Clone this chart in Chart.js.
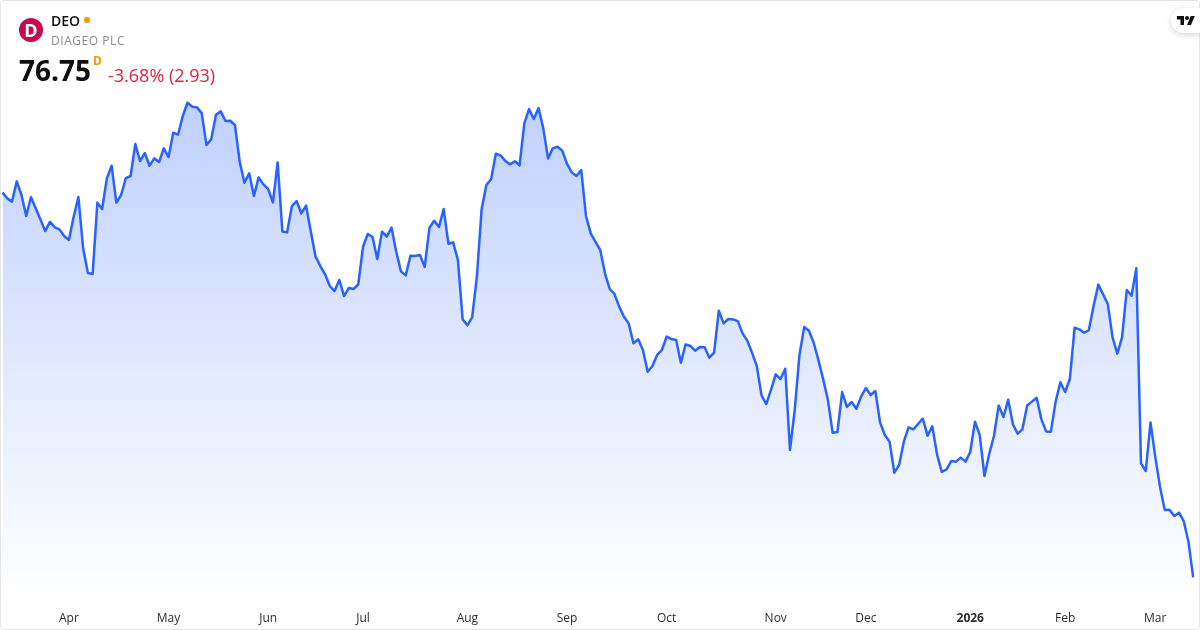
<!DOCTYPE html>
<html>
<head>
<meta charset="utf-8">
<title>DEO</title>
<script src="https://cdn.jsdelivr.net/npm/chart.js@4"></script>
<style>
  html, body { margin: 0; padding: 0; background: #fff; }
  body { width: 1200px; height: 630px; overflow: hidden; position: relative; font-family: "Open Sans", sans-serif; }
  #grafico { position: absolute; left: 0; top: 0; }
  #marco { position: absolute; left: 0; top: 0; width: 1198px; height: 628px; border: 1px solid #e6e6e6; border-radius: 4px; pointer-events: none; }
  .txt { position: absolute; white-space: nowrap; line-height: 1; }
  #logo { position: absolute; left: 19px; top: 18px; width: 24px; height: 24px; border-radius: 50%; background: #c60a50; color: #fff; font-weight: 700; font-size: 18px; line-height: 24px; text-align: center; }
  #punto { position: absolute; left: 84px; top: 17px; width: 6px; height: 6px; border-radius: 50%; background: #ff9800; }
  #tv { position: absolute; left: 1171px; top: 8px; width: 29px; height: 25px; background: #fff; border-radius: 13px 0 0 13px; box-shadow: 0 2px 6px rgba(0,0,0,.16); }
  #tv svg { position: absolute; left: 6px; top: 7px; }
</style>
</head>
<body>
<canvas id="grafico" width="1200" height="630"></canvas>
<div id="marco"></div>
<div id="logo">D</div>
<div class="txt" style="left:51px;top:14px;font-size:14px;font-weight:600;color:#0f0f0f">DEO</div>
<div id="punto"></div>
<div class="txt" style="left:51px;top:35px;font-size:12px;letter-spacing:.55px;color:#8a8a8a">DIAGEO PLC</div>
<div class="txt" style="left:19px;top:56px;font-size:28px;font-weight:700;color:#0f0f0f">76.75</div>
<div class="txt" style="left:93px;top:55px;font-size:12px;font-weight:700;color:#ff9800">D</div>
<div class="txt" style="left:108px;top:66px;font-size:18px;color:#d7263d">-3.68% (2.93)</div>
<div id="tv"><svg width="18" height="11" viewBox="0 0 36 22"><path fill="#0f0f0f" d="M14 20H7V9H0V2h14v18zM28 20h-8l7.5-18h8L28 20z"/><circle fill="#0f0f0f" cx="20" cy="6" r="4"/></svg></div>

<script>
// cierres diarios, un valor por sesion
const precios = [
  108.41, 107.94, 107.67, 109.34, 108.22, 106.49, 108.03, 107.12, 106.21, 105.25,
  106.00, 105.56, 105.39, 104.84, 104.51, 106.43, 108.05, 103.83, 101.80, 101.72,
  107.59, 107.06, 109.59, 110.63, 107.59, 108.22, 109.61, 109.78, 112.41, 111.01,
  111.67, 110.63, 111.23, 110.93, 112.06, 111.34, 113.35, 113.18, 114.72, 115.81,
  115.49, 115.43, 114.94, 112.33, 112.80, 114.83, 115.10, 114.31, 114.33, 113.98,
  110.96, 109.23, 110.00, 108.13, 109.67, 109.09, 108.71, 107.61, 110.90, 105.22,
  105.14, 107.31, 107.72, 106.70, 107.34, 105.20, 103.14, 102.37, 101.69, 100.72,
  100.31, 101.22, 99.90, 100.56, 100.48, 100.86, 103.96, 105.01, 104.76, 102.95,
  105.20, 104.79, 105.53, 103.55, 101.93, 101.60, 103.22, 103.19, 103.28, 102.29,
  105.53, 106.10, 105.58, 107.06, 104.21, 104.32, 102.87, 97.98, 97.49, 98.15,
  101.49, 107.04, 109.04, 109.51, 111.62, 111.48, 111.01, 110.74, 110.99, 110.66,
  114.11, 115.29, 114.47, 115.37, 113.70, 111.23, 112.06, 112.19, 111.87, 110.77,
  110.08, 109.78, 110.27, 106.49, 105.06, 104.35, 103.69, 101.77, 100.48, 100.07,
  99.03, 98.20, 97.65, 96.01, 96.34, 95.46, 93.67, 94.14, 95.05, 95.46,
  96.56, 96.36, 96.28, 94.41, 95.92, 95.79, 95.40, 95.70, 95.68, 94.83,
  95.24, 98.70, 97.65, 98.01, 97.98, 97.84, 96.83, 96.23, 95.24, 94.14,
  91.73, 91.01, 92.17, 93.46, 93.07, 93.92, 87.23, 90.52, 95.05, 97.35,
  97.05, 96.06, 94.63, 93.04, 91.34, 88.65, 88.71, 92.00, 90.77, 91.18,
  90.63, 91.62, 92.33, 91.75, 92.08, 89.48, 88.46, 87.91, 85.36, 85.99,
  87.91, 89.09, 88.93, 89.37, 89.81, 88.41, 89.18, 86.87, 85.42, 85.64,
  86.32, 86.27, 86.60, 86.27, 87.06, 89.56, 88.46, 85.09, 86.90, 88.38,
  90.90, 89.94, 91.37, 89.34, 88.57, 88.93, 90.90, 91.21, 91.53, 89.75,
  88.76, 88.74, 91.21, 92.80, 92.00, 93.07, 97.30, 97.16, 96.88, 97.10,
  99.08, 100.84, 100.04, 99.24, 96.50, 95.16, 96.50, 100.40, 99.93, 102.18,
  86.13, 85.50, 89.50, 86.68, 84.21, 82.29, 82.32, 81.80, 82.07, 81.38,
  79.68, 76.75
];

const sesiones = precios.map((p, i) => i);
const indicesMes = [14, 35, 56, 76, 98, 119, 140, 163, 182, 204, 224, 243];
const etiquetasMes = ['Apr', 'May', 'Jun', 'Jul', 'Aug', 'Sep', 'Oct', 'Nov', 'Dec', '2026', 'Feb', 'Mar'];

function rellenoArea(ctx) {
  const area = ctx.chart.chartArea;
  if (!area) return 'rgba(41,98,255,0.3)';
  const grad = ctx.chart.ctx.createLinearGradient(0, area.top, 0, area.bottom);
  grad.addColorStop(0, 'rgba(41,98,255,0.3)');
  grad.addColorStop(1, 'rgba(41,98,255,0)');
  return grad;
}

new Chart(document.getElementById('grafico').getContext('2d'), {
  type: 'line',
  data: {
    labels: sesiones,
    datasets: [{
      data: precios,
      borderColor: '#2962ff',
      borderWidth: 2.5,
      borderJoinStyle: 'round',
      backgroundColor: rellenoArea,
      fill: 'start',
      pointRadius: 0,
      tension: 0
    }]
  },
  options: {
    responsive: false,
    animation: false,
    layout: { padding: { left: 2.5, right: 6.8, top: 90, bottom: 0 } },
    plugins: { legend: { display: false }, tooltip: { enabled: false } },
    scales: {
      y: { display: false, min: 74.8, max: 116.86 },
      x: {
        grid: { display: false, drawTicks: false },
        border: { display: false },
        afterFit: scale => {
          scale.height = 29;
          // sin esto el padding de los ticks empuja el area hacia dentro
          scale.paddingLeft = 0;
          scale.paddingRight = 0;
        },
        ticks: {
          autoSkip: false,
          maxRotation: 0,
          padding: 10,
          color: '#2e2e2e',
          font: c => ({
            family: '"Open Sans", sans-serif',
            size: 12,
            weight: etiquetasMes[indicesMes.indexOf(c.index)] === '2026' ? '700' : '400'
          }),
          callback: (val, i) => {
            const pos = indicesMes.indexOf(i);
            return pos >= 0 ? etiquetasMes[pos] : '';
          }
        }
      }
    }
  }
});
</script>
</body>
</html>
